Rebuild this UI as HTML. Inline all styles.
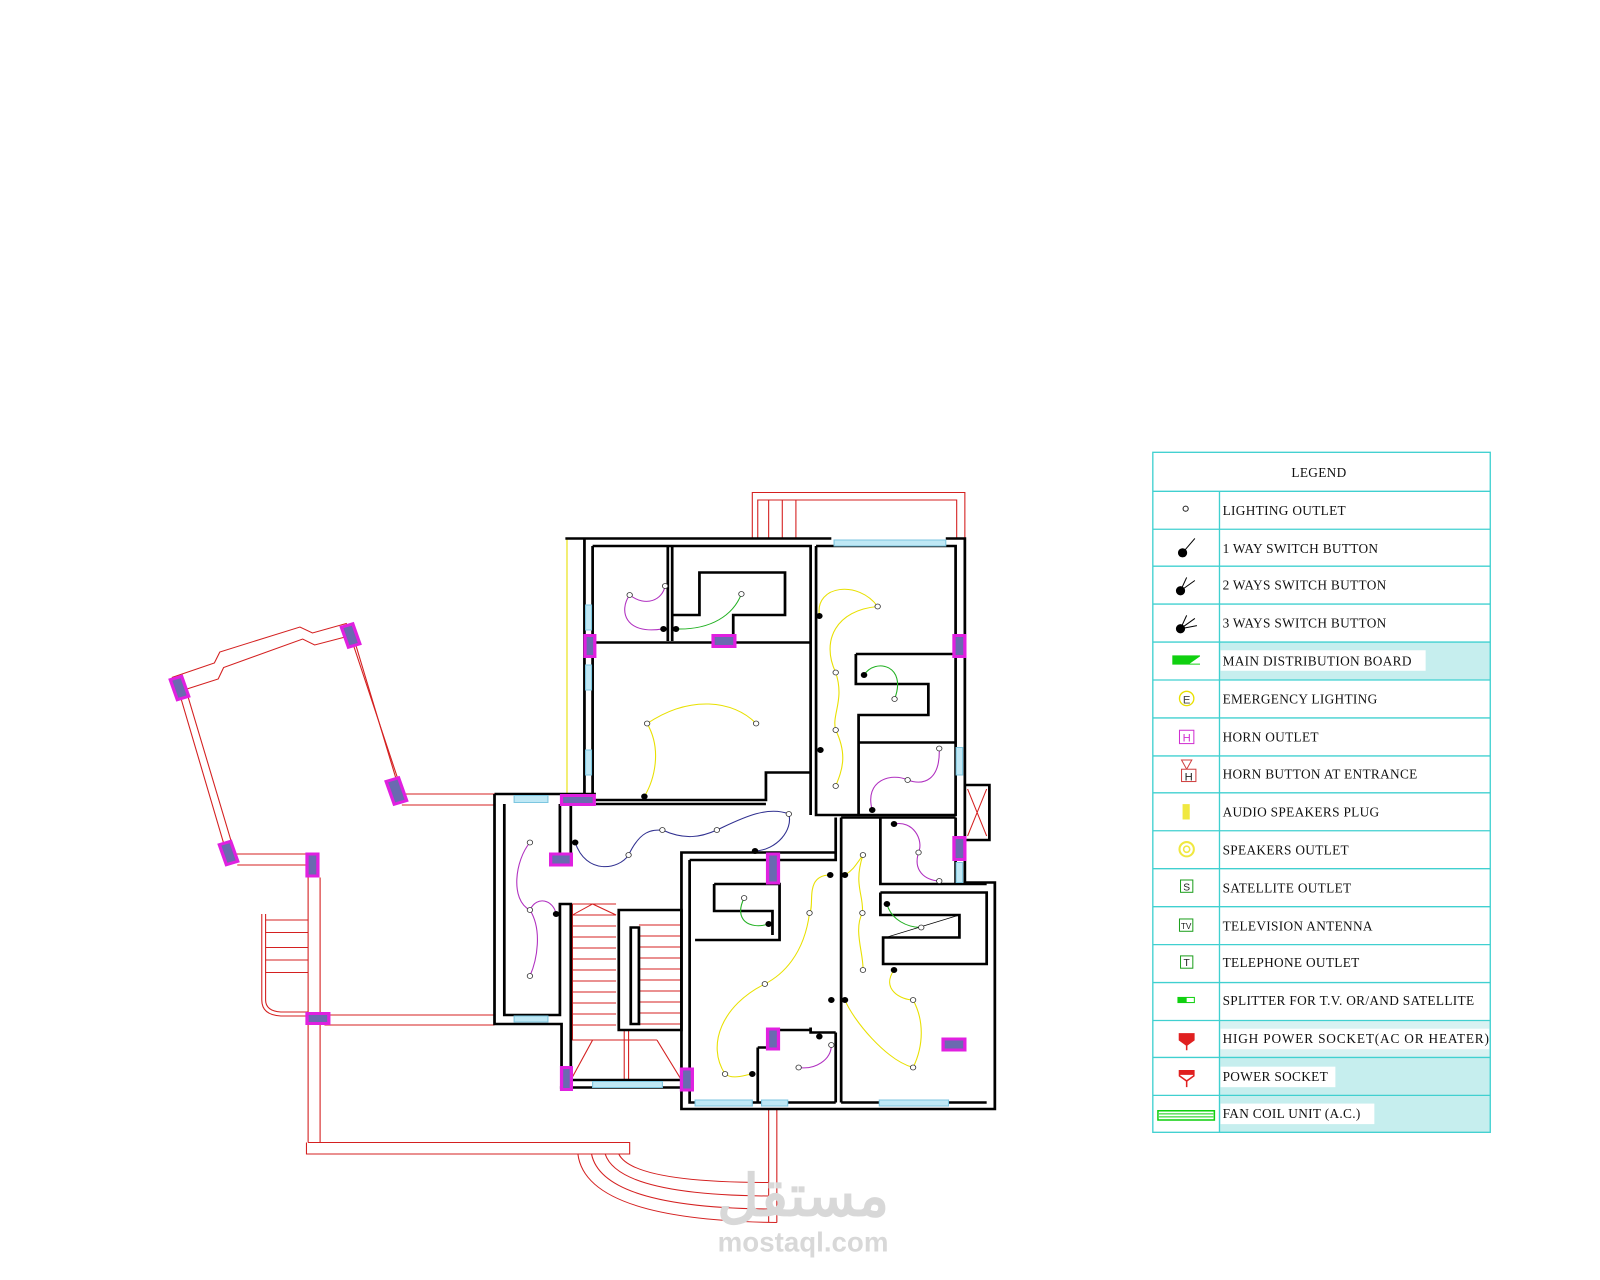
<!DOCTYPE html>
<html><head><meta charset="utf-8"><style>
html,body{margin:0;padding:0;background:#fff;width:1600px;height:1280px;overflow:hidden}
svg{display:block}
.lg{font-family:"Liberation Serif",serif;font-size:13px;fill:#111;letter-spacing:0.3px}
</style></head><body>
<svg width="1600" height="1280" viewBox="0 0 1560 1248" xmlns="http://www.w3.org/2000/svg">
<rect width="1560" height="1248" fill="#fff"/>
<g transform="translate(146.3,468) scale(0.5314,0.4875)">
 <g fill="none" stroke="#d42020" stroke-width="2">
  <path d="M1105,117 V25 H1495 V117 M1115,117 V40 H1480 V117 M1135,40 V117 M1160,40 V117 M1185,40 V117"/>
  <path d="M40,395 L118,366 L128,344 L275,294 L298,306 L360,287 L462,622"/>
  <path d="M62,420 L125,398 L135,375 L280,318 L302,330 L372,310"/>
  <path d="M50,412 L140,745 M66,420 L155,745"/>
  <path d="M372,310 L452,600"/>
  <path d="M462,628 H632 M462,650 H632"/>
  <path d="M155,748 H290 M160,770 H290"/>
  <path d="M290,770 V1325 M312,795 V1325 M290,1325 H880 V1348 H287 V1325"/>
  <path d="M320,1070 H632 M320,1090 H632"/>
  <path d="M205,868 V1040 Q205,1070 240,1072 H290 M212,868 V1040 Q212,1062 240,1064 H290"/>
  <path d="M212,880 H290 M212,905 H290 M212,935 H290 M212,960 H290 M212,985 H290"/>
  <path d="M1135,1258 V1485 M1150,1258 V1485"/>
  <path d="M785,1348 Q800,1480 1150,1485 M810,1348 Q830,1455 1135,1458 M835,1348 Q860,1430 1135,1432 M860,1348 Q885,1405 1135,1405"/>
  <path d="M775,848 H855 M775,848 V1120 H930 M812,1120 L772,1200 M930,1120 L975,1200 M870,1100 V1200 M878,1100 V1200"/>
  <path d="M775,870 H855 M775,892 H855 M775,914 H855 M775,936 H855 M775,958 H855 M775,980 H855 M775,1002 H855 M775,1024 H855 M775,1046 H855 M775,1068 H855 M775,1090 H855"/>
  <path d="M897,890 H975 M897,912 H975 M897,934 H975 M897,956 H975 M897,978 H975 M897,1000 H975 M897,1022 H975 M897,1044 H975 M897,1066 H975 M897,1088 H975"/>
  <path d="M775,870 L812,848 L855,870"/>
 </g>
 <path d="M765,117 V640" stroke="#e8e000" stroke-width="2" fill="none"/>
 <g fill="none" stroke="#000" stroke-linejoin="miter">
  <g stroke-width="5">
   <path d="M762,117 H1250 M1460,117 H1495 V805 H1550 V1258 H975 V745 H1258"/>
   <path d="M797,117 V640 M812,132 V640"/>
   <path d="M812,132 H1212 V670 M1222,132 H1478 V610"/>
   <path d="M812,325 H1212 M950,132 V322 M958,132 V322"/>
   <path d="M958,270 H1008 V185 H1165 V270 H1070 V312"/>
   <path d="M812,640 H1130 V585 H1212 M1222,132 V670 H1478 V610"/>
   <path d="M1295,348 H1478 M1295,348 V408 H1428 V470 H1300 V525 H1478 M1300,525 V670"/>
   <path d="M990,760 H1258 V675 M1268,675 V1245 M1268,675 H1478 M1340,675 V808 H1535 M1478,675 V808"/>
   <path d="M1340,825 H1535 V968 H1345 V915 H1485 V870 H1340 V825"/>
   <path d="M1268,1245 H1535"/>
   <path d="M990,760 V1245 H1258 M1035,808 H1155 V920 H1000 M1035,808 V862 H1142 V910 M1115,1135 V1245 M1115,1135 H1140 M1212,1095 V1105 H1258 M1140,1100 H1210 M1258,1105 V1245"/>
   <path d="M632,628 H818 M632,628 V1088 H755 V1215 M650,648 V1070 H752 V848 H772 V1200 M752,648 V770 M772,648 V745"/>
   <path d="M752,1215 H995 M772,1200 H975 M818,648 H1130"/>
   <path d="M860,860 H975 V1100 H860 Z M882,895 V1088 H897 V895 Z"/>
   <path d="M1495,610 H1540 V720 H1495"/>
  </g>
 </g>
 <path d="M1500,618 L1535,712 M1535,618 L1500,712" stroke="#d42020" stroke-width="2"/>
 <g fill="#bfe8f5" stroke="#7cc6e0" stroke-width="2">
  <rect x="1255" y="120" width="205" height="12"/>
  <rect x="799" y="250" width="11" height="50"/><rect x="799" y="370" width="11" height="50"/><rect x="799" y="540" width="11" height="50"/>
  <rect x="668" y="631" width="62" height="14"/><rect x="668" y="1072" width="62" height="12"/>
  <rect x="812" y="1203" width="128" height="12"/>
  <rect x="1000" y="1240" width="105" height="12"/><rect x="1122" y="1240" width="48" height="12"/><rect x="1338" y="1240" width="127" height="12"/>
  <rect x="1479" y="535" width="12" height="55"/><rect x="1479" y="765" width="12" height="40"/>
 </g>
 <g fill="#6a6ab0" stroke="#e020e0" stroke-width="6">
  <rect x="43" y="395" width="22" height="42" transform="rotate(-18 54 416)"/>
  <rect x="357" y="290" width="22" height="42" transform="rotate(-18 368 311)"/>
  <rect x="440" y="598" width="24" height="48" transform="rotate(-18 452 622)"/>
  <rect x="133" y="725" width="22" height="42" transform="rotate(-18 144 746)"/>
  <rect x="288" y="748" width="20" height="44"/>
  <rect x="288" y="1067" width="40" height="20"/>
  <rect x="798" y="311" width="18" height="42"/>
  <rect x="755" y="631" width="60" height="18"/>
  <rect x="735" y="748" width="38" height="22"/>
  <rect x="1033" y="311" width="40" height="22"/>
  <rect x="1133" y="748" width="20" height="58"/>
  <rect x="1133" y="1098" width="20" height="40"/>
  <rect x="755" y="1175" width="18" height="44"/>
  <rect x="975" y="1178" width="20" height="42"/>
  <rect x="1475" y="311" width="20" height="42"/>
  <rect x="1475" y="715" width="20" height="44"/>
  <rect x="1455" y="1118" width="40" height="22"/>
 </g>
 <g fill="none" stroke-width="2">
  <path stroke="#b030c0" d="M880,230 C860,260 870,310 940,298 M945,212 C940,240 910,255 880,230"/>
  <path stroke="#20b020" d="M965,298 C1030,300 1070,270 1085,228"/>
  <path stroke="#e8e000" d="M912,487 C990,430 1070,440 1112,487 M912,487 C940,540 925,600 907,633"/>
  <path stroke="#e8e000" d="M1228,270 C1220,210 1300,200 1335,253 M1335,253 C1260,260 1230,320 1258,385 C1275,440 1250,470 1258,500 C1280,550 1270,580 1258,612"/>
  <path stroke="#20b020" d="M1310,390 C1330,355 1390,370 1366,438"/>
  <path stroke="#b030c0" d="M1325,660 C1310,600 1360,585 1390,600 C1420,612 1450,600 1448,537"/>
  <path stroke="#303090" d="M780,725 C800,790 860,780 878,750 C900,700 920,700 940,700 C980,720 1010,715 1040,700 C1080,680 1130,650 1172,668 C1180,700 1150,740 1110,742"/>
  <path stroke="#b030c0" d="M697,725 C670,760 660,840 697,860 C720,900 710,960 697,992 M697,860 C710,830 740,840 745,868"/>
  <path stroke="#20b020" d="M1090,836 C1070,880 1100,900 1135,888"/>
  <path stroke="#e8e000" d="M1248,790 C1200,790 1220,850 1210,866 C1200,950 1160,990 1128,1008 C1050,1050 1020,1130 1055,1188 C1070,1200 1090,1190 1105,1188"/>
  <path stroke="#b030c0" d="M1190,1175 C1220,1180 1250,1160 1250,1130"/>
  <path stroke="#e8e000" d="M1308,750 C1295,770 1290,780 1275,790 M1308,750 C1290,810 1310,830 1307,866 C1290,900 1310,950 1308,980"/>
  <path stroke="#20b020" d="M1352,848 C1360,880 1390,895 1415,895"/>
  <path stroke="#000" stroke-width="1.5" d="M1350,915 L1485,870"/>
  <path stroke="#e8e000" d="M1365,980 C1340,1020 1380,1040 1400,1040 C1420,1080 1420,1130 1400,1175 C1350,1160 1290,1080 1275,1040"/>
  <path stroke="#b030c0" d="M1365,688 C1400,680 1420,720 1410,745 C1400,780 1420,800 1448,802"/>
 </g>
 <g fill="#fff" stroke="#333" stroke-width="1.5">
  <circle cx="880" cy="230" r="5"/><circle cx="945" cy="212" r="5"/><circle cx="1085" cy="228" r="5"/>
  <circle cx="912" cy="487" r="5"/><circle cx="1112" cy="487" r="5"/><circle cx="1335" cy="253" r="5"/>
  <circle cx="1258" cy="385" r="5"/><circle cx="1258" cy="500" r="5"/><circle cx="1258" cy="612" r="5"/>
  <circle cx="1366" cy="438" r="5"/><circle cx="1390" cy="600" r="5"/><circle cx="1448" cy="537" r="5"/>
  <circle cx="1172" cy="668" r="5"/><circle cx="1040" cy="700" r="5"/><circle cx="940" cy="700" r="5"/><circle cx="878" cy="750" r="5"/>
  <circle cx="697" cy="725" r="5"/><circle cx="697" cy="860" r="5"/><circle cx="697" cy="992" r="5"/>
  <circle cx="1090" cy="836" r="5"/><circle cx="1210" cy="866" r="5"/><circle cx="1128" cy="1008" r="5"/><circle cx="1055" cy="1188" r="5"/>
  <circle cx="1190" cy="1175" r="5"/><circle cx="1250" cy="1130" r="5"/>
  <circle cx="1308" cy="750" r="5"/><circle cx="1307" cy="866" r="5"/><circle cx="1308" cy="980" r="5"/>
  <circle cx="1415" cy="895" r="5"/><circle cx="1400" cy="1040" r="5"/><circle cx="1400" cy="1175" r="5"/>
  <circle cx="1410" cy="745" r="5"/><circle cx="1448" cy="802" r="5"/>
 </g>
 <g fill="#000">
  <circle cx="942" cy="298" r="6"/><circle cx="965" cy="298" r="6"/><circle cx="907" cy="633" r="6"/>
  <circle cx="1228" cy="272" r="6"/><circle cx="1310" cy="390" r="6"/><circle cx="1230" cy="540" r="6"/><circle cx="1325" cy="660" r="6"/>
  <circle cx="780" cy="725" r="6"/><circle cx="1110" cy="742" r="6"/><circle cx="745" cy="868" r="6"/>
  <circle cx="1135" cy="888" r="6"/><circle cx="1248" cy="790" r="6"/><circle cx="1275" cy="790" r="6"/>
  <circle cx="1105" cy="1188" r="6"/><circle cx="1228" cy="1113" r="6"/><circle cx="1250" cy="1040" r="6"/><circle cx="1275" cy="1040" r="6"/>
  <circle cx="1352" cy="848" r="6"/><circle cx="1365" cy="980" r="6"/><circle cx="1365" cy="688" r="6"/>
 </g>
</g>
<text x="783" y="1185" text-anchor="middle" font-family="'Liberation Sans','Noto Sans CJK SC',sans-serif" font-size="56" font-weight="bold" fill="#d8d8d8">مستقل</text>
<text x="783" y="1220" text-anchor="middle" font-family="'Liberation Sans',sans-serif" font-size="27" font-weight="bold" fill="#d8d8d8">mostaql.com</text>
<g>
 <rect x="1189" y="626" width="264" height="37" fill="#c6eeee"/>
 <rect x="1189" y="995" width="264" height="36" fill="#d8f2f2"/>
 <rect x="1189" y="1031" width="264" height="37" fill="#c6eeee"/>
 <rect x="1189" y="1068" width="264" height="36" fill="#c6eeee"/>
 <rect x="1190" y="634" width="200" height="20" fill="#fff"/>
 <rect x="1190" y="1003" width="262" height="20" fill="#fff"/>
 <rect x="1190" y="1040" width="112" height="20" fill="#fff"/>
 <rect x="1190" y="1076" width="150" height="20" fill="#fff"/>
 <g stroke="#40d0d0" stroke-width="1.3" fill="none">
  <rect x="1124" y="441" width="329" height="663"/>
  <path d="M1189,479 V1104"/>
  <path d="M1124,479 H1453 M1124,516 H1453 M1124,552 H1453 M1124,589 H1453 M1124,626 H1453 M1124,663 H1453 M1124,700 H1453 M1124,737 H1453 M1124,773 H1453 M1124,810 H1453 M1124,847 H1453 M1124,884 H1453 M1124,921 H1453 M1124,958 H1453 M1124,995 H1453 M1124,1031 H1453 M1124,1068 H1453"/>
 </g>
 <g class="lg">
  <text x="1286" y="465" text-anchor="middle">LEGEND</text>
  <text x="1192" y="502">LIGHTING OUTLET</text>
  <text x="1192" y="539">1 WAY SWITCH BUTTON</text>
  <text x="1192" y="575">2 WAYS SWITCH BUTTON</text>
  <text x="1192" y="612">3 WAYS SWITCH BUTTON</text>
  <text x="1192" y="649">MAIN DISTRIBUTION BOARD</text>
  <text x="1192" y="686">EMERGENCY LIGHTING</text>
  <text x="1192" y="723">HORN OUTLET</text>
  <text x="1192" y="759">HORN BUTTON AT ENTRANCE</text>
  <text x="1192" y="796">AUDIO SPEAKERS PLUG</text>
  <text x="1192" y="833">SPEAKERS OUTLET</text>
  <text x="1192" y="870">SATELLITE OUTLET</text>
  <text x="1192" y="907">TELEVISION ANTENNA</text>
  <text x="1192" y="943">TELEPHONE OUTLET</text>
  <text x="1192" y="980">SPLITTER FOR T.V. OR/AND SATELLITE</text>
  <text x="1192" y="1017" textLength="260">HIGH POWER SOCKET(AC OR HEATER)</text>
  <text x="1192" y="1054">POWER SOCKET</text>
  <text x="1192" y="1090">FAN COIL UNIT (A.C.)</text>
 </g>
 <circle cx="1156" cy="496" r="2.5" fill="none" stroke="#222"/>
 <g fill="#000" stroke="#000" stroke-width="1">
  <circle cx="1153" cy="539" r="4"/><path d="M1153,539 L1165,525"/>
  <circle cx="1151" cy="576" r="4"/><path d="M1151,576 L1157,563 M1151,576 L1165,566"/>
  <circle cx="1151" cy="613" r="4"/><path d="M1151,613 L1157,600 M1151,613 L1165,603 M1151,613 L1167,610"/>
 </g>
 <rect x="1143" y="639" width="27" height="9" fill="#10d010"/>
 <path d="M1160,647 L1170,640 V647 Z" fill="#fff"/>
 <circle cx="1157" cy="681" r="7" fill="none" stroke="#e8e000" stroke-width="1.3"/>
 <text x="1157" y="686" text-anchor="middle" font-family="Liberation Sans,sans-serif" font-size="11" fill="#444">E</text>
 <rect x="1150" y="712" width="14" height="13" fill="none" stroke="#d030d0"/>
 <text x="1157" y="723" text-anchor="middle" font-family="Liberation Sans,sans-serif" font-size="11" fill="#d030d0">H</text>
 <path d="M1152,741 L1162,741 L1157,750 Z" fill="none" stroke="#d04040"/>
 <rect x="1152" y="750" width="14" height="12" fill="#fff" stroke="#d04040"/>
 <text x="1159" y="761" text-anchor="middle" font-family="Liberation Sans,sans-serif" font-size="11" fill="#222">H</text>
 <rect x="1153" y="784" width="7" height="15" fill="#f0e840"/>
 <circle cx="1157" cy="828" r="7" fill="none" stroke="#f0e840" stroke-width="2"/><circle cx="1157" cy="828" r="3" fill="none" stroke="#f0e840" stroke-width="1.5"/>
 <rect x="1151" y="858" width="12" height="12" fill="none" stroke="#20a020"/>
 <text x="1157" y="868" text-anchor="middle" font-family="Liberation Sans,sans-serif" font-size="10" fill="#222">S</text>
 <rect x="1150" y="896" width="13" height="12" fill="none" stroke="#20a020"/>
 <text x="1156.5" y="906" text-anchor="middle" font-family="Liberation Sans,sans-serif" font-size="8" fill="#222">TV</text>
 <rect x="1151" y="932" width="12" height="12" fill="none" stroke="#20a020"/>
 <text x="1157" y="942" text-anchor="middle" font-family="Liberation Sans,sans-serif" font-size="10" fill="#222">T</text>
 <rect x="1148" y="972" width="17" height="6" fill="#10d010"/><rect x="1157" y="973" width="7" height="4" fill="#fff"/>
 <path d="M1150,1008 H1164 V1014 L1157,1019 L1150,1014 Z M1157,1019 V1024" fill="#e02020" stroke="#e02020" stroke-width="1.5"/>
 <path d="M1150,1044 H1164 V1049 L1157,1054 L1150,1049 Z M1157,1054 V1060" fill="none" stroke="#e02020" stroke-width="1.5"/>
 <rect x="1150" y="1044" width="14" height="4" fill="#e02020"/>
 <rect x="1129" y="1083" width="55" height="9" fill="none" stroke="#10d010" stroke-width="1.5"/>
 <path d="M1130,1086 H1183 M1130,1089 H1183" stroke="#10d010"/>
</g>
</svg>
</body></html>
